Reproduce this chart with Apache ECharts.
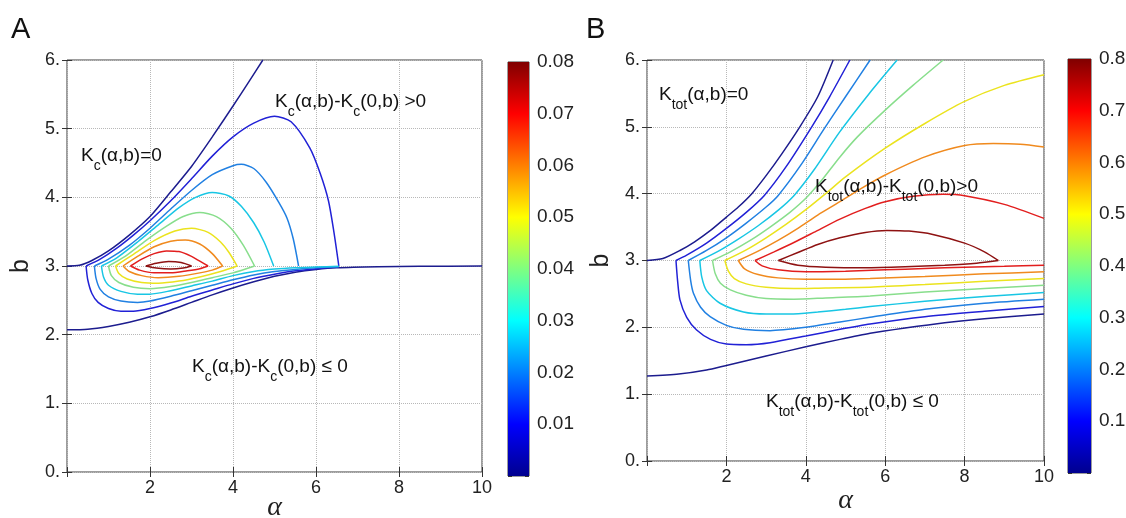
<!DOCTYPE html>
<html><head><meta charset="utf-8">
<script src="https://cdn.jsdelivr.net/npm/echarts@6/dist/echarts.min.js"></script>
<style>html,body{margin:0;padding:0;background:#fff}#c{width:1126px;height:518px}</style>
</head><body><div id="c"></div>
<script>
// ---------- tick labels ----------
const xTicks = [0, 2, 4, 6, 8, 10];
const yTicks = [0, 1, 2, 3, 4, 5, 6];
const cbTicksA = [0.01, 0.02, 0.03, 0.04, 0.05, 0.06, 0.07, 0.08];
const cbTicksB = [0.1, 0.2, 0.3, 0.4, 0.5, 0.6, 0.7, 0.8];
const levelsA = [0, 0.01, 0.02, 0.03, 0.04, 0.05, 0.06, 0.07, 0.08];
const levelsB = [0, 0.1, 0.2, 0.3, 0.4, 0.5, 0.6, 0.7, 0.8];

// ---------- Panel A contours [alpha, b] ----------
const A0_up  = [[0,3.0],[0.3,3.01],[0.6,3.08],[1.0,3.22],[1.5,3.45],[2.0,3.72],[2.5,4.08],[3.0,4.45],[3.5,4.88],[4.0,5.33],[4.4,5.7],[4.72,6.0]];
const A0_low = [[0,2.07],[0.5,2.08],[1.0,2.12],[1.5,2.18],[2.0,2.26],[2.5,2.36],[3.0,2.47],[3.5,2.58],[4.0,2.68],[4.5,2.77],[5.0,2.85],[5.5,2.91],[6.0,2.95],[6.5,2.975],[7.5,2.99],[8.5,2.995],[10,3.0]];
const A1_up  = [[0.46,3.0],[0.8,3.1],[1.2,3.26],[1.6,3.45],[2.0,3.66],[2.5,3.95],[3.0,4.27],[3.5,4.6],[4.0,4.88],[4.5,5.08],[5.0,5.18],[5.4,5.1],[5.85,4.72],[6.1,4.35],[6.3,3.95],[6.43,3.5],[6.55,3.0]];
const A1_low = [[0.46,3.0],[0.5,2.8],[0.6,2.6],[0.75,2.47],[1.0,2.38],[1.3,2.34],[1.6,2.34],[2.0,2.38],[2.5,2.46],[3.0,2.56],[3.5,2.65],[4.0,2.74],[4.5,2.82],[5.0,2.88],[5.5,2.93],[6.0,2.96],[6.55,2.99]];
const A2_up  = [[0.66,3.0],[1.0,3.1],[1.5,3.3],[2.0,3.55],[2.5,3.83],[3.0,4.1],[3.5,4.33],[4.0,4.46],[4.2,4.48],[4.5,4.42],[4.8,4.22],[5.1,3.93],[5.3,3.7],[5.45,3.4],[5.58,3.0]];
const A2_low = [[0.66,3.0],[0.7,2.82],[0.8,2.66],[1.0,2.55],[1.3,2.49],[1.7,2.47],[2.0,2.49],[2.5,2.56],[3.0,2.64],[3.5,2.72],[4.0,2.8],[4.5,2.87],[5.0,2.92],[5.5,2.95],[6.0,2.975],[6.55,2.99]];
const A3_up  = [[0.83,3.0],[1.2,3.12],[1.7,3.35],[2.2,3.6],[2.7,3.85],[3.1,4.0],[3.5,4.07],[3.9,4.02],[4.2,3.87],[4.5,3.63],[4.75,3.35],[4.98,3.0]];
const A3_low = [[0.83,3.0],[0.88,2.84],[1.0,2.72],[1.3,2.63],[1.7,2.59],[2.0,2.59],[2.5,2.64],[3.0,2.71],[3.5,2.78],[4.0,2.86],[4.5,2.92],[5.0,2.955],[5.5,2.975],[6.0,2.985],[6.55,2.995]];
const A4_up  = [[1.0,3.0],[1.4,3.14],[1.9,3.37],[2.4,3.58],[2.8,3.72],[3.2,3.78],[3.6,3.72],[3.95,3.55],[4.25,3.3],[4.52,3.0]];
const A4_low = [[1.0,3.0],[1.07,2.86],[1.25,2.76],[1.6,2.69],[2.0,2.67],[2.5,2.7],[3.0,2.76],[3.5,2.83],[4.0,2.9],[4.52,3.0]];
const A5_up  = [[1.17,3.0],[1.6,3.17],[2.1,3.37],[2.6,3.51],[3.0,3.55],[3.4,3.49],[3.7,3.35],[3.9,3.2],[4.1,3.0]];
const A5_low = [[1.17,3.0],[1.25,2.89],[1.45,2.81],[1.8,2.76],[2.2,2.75],[2.7,2.78],[3.2,2.84],[3.7,2.92],[4.1,3.0]];
const A6_up  = [[1.35,3.0],[1.7,3.14],[2.1,3.28],[2.5,3.36],[2.85,3.38],[3.2,3.32],[3.5,3.18],[3.75,3.0]];
const A6_low = [[1.35,3.0],[1.5,2.92],[1.8,2.86],[2.2,2.83],[2.7,2.85],[3.2,2.9],[3.5,2.94],[3.75,3.0]];
const A7_up  = [[1.53,3.0],[1.8,3.1],[2.1,3.18],[2.4,3.22],[2.7,3.21],[3.0,3.14],[3.2,3.07],[3.4,3.0]];
const A7_low = [[1.53,3.0],[1.75,2.94],[2.1,2.9],[2.5,2.9],[2.9,2.93],[3.2,2.96],[3.4,3.0]];
const A8_up  = [[1.9,3.0],[2.15,3.04],[2.45,3.065],[2.75,3.05],[3.0,3.0]];
const A8_low = [[1.9,3.0],[2.15,2.97],[2.5,2.955],[2.8,2.97],[3.0,3.0]];

// ---------- Panel B contours [alpha, b] ----------
const B0_up  = [[0,3.0],[0.4,3.03],[0.83,3.15],[1.2,3.28],[1.6,3.45],[2.0,3.65],[2.3,3.8],[2.64,4.0],[3.0,4.27],[3.4,4.6],[3.85,5.0],[4.3,5.45],[4.69,6.0]];
const B0_low = [[0,1.27],[0.8,1.3],[1.5,1.36],[2.0,1.43],[3.0,1.57],[4.0,1.71],[4.86,1.82],[5.62,1.91],[6.5,1.99],[7.5,2.07],[8.5,2.13],[10,2.2]];
const B1_up  = [[0.73,3.0],[1.0,3.08],[1.5,3.26],[2.0,3.48],[2.5,3.72],[2.95,3.97],[3.5,4.4],[4.15,5.0],[4.6,5.45],[5.11,6.0]];
const B1_low = [[0.73,3.0],[0.77,2.7],[0.83,2.41],[1.0,2.15],[1.25,1.96],[1.6,1.82],[2.0,1.75],[2.5,1.74],[3.1,1.77],[4.0,1.87],[4.86,1.97],[5.62,2.05],[7,2.16],[8.5,2.24],[10,2.31]];
const B2_up  = [[1.04,3.0],[1.5,3.15],[2.0,3.34],[2.5,3.56],[3.0,3.8],[3.3,3.97],[3.9,4.45],[4.44,4.95],[5.0,5.45],[5.62,6.0]];
const B2_low = [[1.04,3.0],[1.1,2.7],[1.17,2.51],[1.35,2.3],[1.59,2.16],[2.0,2.03],[2.43,1.97],[3.1,1.95],[4.0,2.0],[4.86,2.08],[5.62,2.15],[7,2.27],[8.5,2.36],[10,2.42]];
const B3_up  = [[1.33,3.0],[1.8,3.14],[2.3,3.32],[2.8,3.52],[3.3,3.75],[3.7,3.97],[4.2,4.35],[4.85,4.92],[5.6,5.5],[6.3,6.0]];
const B3_low = [[1.33,3.0],[1.38,2.75],[1.5,2.55],[1.84,2.36],[2.43,2.23],[3.0,2.2],[3.6,2.2],[4.3,2.23],[5.0,2.27],[5.62,2.31],[7,2.39],[8.5,2.46],[10,2.52]];
const B4_up  = [[1.65,3.0],[2.1,3.13],[2.6,3.3],[3.1,3.5],[3.6,3.72],[4.0,3.93],[4.4,4.2],[4.86,4.55],[5.3,4.85],[6.0,5.25],[6.7,5.62],[7.46,6.0]];
const B4_low = [[1.65,3.0],[1.72,2.8],[1.85,2.66],[2.1,2.56],[2.5,2.48],[3.0,2.43],[3.7,2.42],[4.5,2.44],[5.62,2.47],[7,2.53],[8.5,2.58],[10,2.63]];
const B5_up  = [[1.96,3.0],[2.5,3.16],[3.0,3.34],[3.5,3.54],[4.0,3.76],[4.5,4.0],[5.0,4.25],[6.0,4.68],[7.0,5.05],[8.0,5.38],[9.0,5.62],[10,5.78]];
const B5_low = [[1.96,3.0],[2.05,2.84],[2.2,2.73],[2.5,2.65],[3.0,2.6],[3.7,2.58],[4.5,2.59],[5.62,2.6],[7,2.64],[8.5,2.69],[10,2.73]];
const B6_up  = [[2.3,3.0],[2.8,3.14],[3.3,3.3],[3.8,3.48],[4.3,3.68],[4.86,3.88],[5.4,4.08],[6.0,4.28],[7.0,4.55],[8.0,4.72],[8.72,4.75],[9.4,4.74],[10,4.7]];
const B6_low = [[2.3,3.0],[2.45,2.88],[2.8,2.79],[3.3,2.74],[4.0,2.72],[4.86,2.72],[5.62,2.73],[7,2.76],[8.5,2.8],[10,2.83]];
const B7_up  = [[2.72,3.0],[3.2,3.13],[3.7,3.27],[4.2,3.42],[4.86,3.62],[5.5,3.78],[6.0,3.88],[6.7,3.96],[7.46,3.99],[8.0,3.97],[9.0,3.84],[10,3.63]];
const B7_low = [[2.72,3.0],[2.9,2.92],[3.3,2.86],[4.0,2.83],[5.0,2.84],[6.0,2.86],[7,2.88],[8,2.9],[9,2.915],[10,2.93]];
const B8_up  = [[3.31,3.0],[3.8,3.12],[4.3,3.24],[4.86,3.34],[5.5,3.42],[6.04,3.45],[6.6,3.44],[7.2,3.39],[8.0,3.26],[8.5,3.13],[8.85,3.0]];
const B8_low = [[3.31,3.0],[3.8,2.93],[4.5,2.9],[5.5,2.89],[6.5,2.905],[7.5,2.93],[8.3,2.96],[8.85,3.0]];

const contoursA = [[0,A0_up],[0,A0_low],[1,A1_up],[1,A1_low],[2,A2_up],[2,A2_low],[3,A3_up],[3,A3_low],[4,A4_up],[4,A4_low],[5,A5_up],[5,A5_low],[6,A6_up],[6,A6_low],[7,A7_up],[7,A7_low],[8,A8_up],[8,A8_low]];
const contoursB = [[0,B0_up],[0,B0_low],[1,B1_up],[1,B1_low],[2,B2_up],[2,B2_low],[3,B3_up],[3,B3_low],[4,B4_up],[4,B4_low],[5,B5_up],[5,B5_low],[6,B6_up],[6,B6_low],[7,B7_up],[7,B7_low],[8,B8_up],[8,B8_low]];

// ---------- styles ----------
const lineColors = ['#1c1c8e','#2121d6','#2180e2','#18c6e4','#88de8c','#ebe31e','#f08a1e','#e21e1e','#8e1212'];
const jetStops = [[0,'#00008f'],[0.125,'#0000ff'],[0.375,'#00ffff'],[0.625,'#ffff00'],[0.875,'#ff0000'],[1,'#800000']];
const FONT = 'Liberation Sans, Arial, sans-serif';
const AX = '#333';

const chart = echarts.init(document.getElementById('c'), null, {renderer:'canvas'});

function contourSeries(list, idx) {
  return list.map(([lv, d]) => ({
    type:'line', xAxisIndex:idx, yAxisIndex:idx, data:d, showSymbol:false, symbol:'none',
    smooth:0.25, silent:true, z:3, lineStyle:{color:lineColors[lv], width:1.5}
  }));
}
function plotX(grid, show) {
  return {
    gridIndex:grid, type:'value', min:xTicks[0], max:xTicks[xTicks.length-1], interval:2,
    position: show ? 'bottom' : 'top',
    name: show ? 'α' : '', nameLocation:'middle', nameGap: grid === 0 ? 22 : 26, nameMoveOverlap:false,
    nameTextStyle:{fontFamily:'Liberation Serif, serif', fontStyle:'italic', fontSize:28, color:'#222'},
    axisLine:{show:false}, axisTick:{show:true, inside:true, length:5, lineStyle:{color:AX}},
    axisLabel:{show:show, fontSize:18, fontFamily:FONT, color:'#222', margin:7,
      formatter: v => (v === 0 || xTicks.indexOf(v) < 0) ? '' : String(v)},
    splitLine:{show:show, lineStyle:{color:'#b8b8b8', type:'dotted', width:1}}
  };
}
function plotY(grid, show) {
  return {
    gridIndex:grid, type:'value', min:yTicks[0], max:yTicks[yTicks.length-1], interval:1,
    position: show ? 'left' : 'right',
    name: show ? 'b' : '', nameLocation:'middle', nameRotate:90, nameGap:33, nameMoveOverlap:false,
    nameTextStyle:{fontFamily:FONT, fontSize:25, color:'#222'},
    axisLine:{show:false}, axisTick:{show:true, inside:true, length:5, lineStyle:{color:AX}},
    axisLabel:{show:show, fontSize:18, fontFamily:FONT, color:'#222', margin:7,
      formatter: v => yTicks.indexOf(v) < 0 ? '' : v + '.'},
    splitLine:{show:show, lineStyle:{color:'#b8b8b8', type:'dotted', width:1}}
  };
}
function cbY(grid, max, ticks, dec, show) {
  return {
    gridIndex:grid, type:'value', min:0, max:max, interval:max/8, position: show ? 'right' : 'left',
    axisLine:{show:false}, axisTick:{show:true, inside:true, length:4, lineStyle:{color:AX}},
    axisLabel:{show:show, inside:false, fontSize:19, fontFamily:FONT, color:'#222', margin:8,
      formatter: v => { const s = v.toFixed(dec); return ticks.map(t => t.toFixed(dec)).indexOf(s) < 0 ? '' : s; }},
    splitLine:{show:false}
  };
}
function cbX(grid) {
  return {gridIndex:grid, type:'category', data:['c'], show:false, boundaryGap:true};
}
function rich(main, sub) {
  return {
    m:{fontSize:main, fontWeight:'normal', fontFamily:FONT, color:'#111', verticalAlign:'top', lineHeight:main+3},
    s:{fontSize:sub, fontWeight:'normal', fontFamily:FONT, color:'#111', verticalAlign:'top', padding:[13,0,0,0]}
  };
}
function note(text, left, top) {
  return {text:text, left:left, top:top, padding:0, textStyle:{fontWeight:'normal', rich:rich(19,14)}};
}
const gridBox = {show:true, borderColor:'#3a3a3a', borderWidth:1, backgroundColor:'rgba(0,0,0,0)',
                 containLabel:false, outerBoundsMode:'none'};

const option = {
  animation:false,
  backgroundColor:'#fff',
  title:[
    {text:'A', left:11, top:15, padding:0, textStyle:{fontSize:29, fontWeight:'normal', fontFamily:FONT, color:'#111'}},
    {text:'B', left:586, top:15, padding:0, textStyle:{fontSize:29, fontWeight:'normal', fontFamily:FONT, color:'#111'}},
    note('{m|K}{s|c}{m|(α,b)=0}', 81, 146),
    note('{m|K}{s|c}{m|(α,b)-K}{s|c}{m|(0,b) >0}', 275, 92),
    note('{m|K}{s|c}{m|(α,b)-K}{s|c}{m|(0,b) ≤ 0}', 192, 357),
    note('{m|K}{s|tot}{m|(α,b)=0}', 659, 85),
    note('{m|K}{s|tot}{m|(α,b)-K}{s|tot}{m|(0,b)>0}', 815, 177),
    note('{m|K}{s|tot}{m|(α,b)-K}{s|tot}{m|(0,b) ≤ 0}', 766, 392)
  ],
  grid:[
    Object.assign({left:67, top:60, width:415, height:412}, gridBox),
    Object.assign({left:647, top:60, width:397, height:401}, gridBox),
    Object.assign({left:508, top:62, width:21, height:414}, gridBox),
    Object.assign({left:1068, top:59, width:23, height:414}, gridBox)
  ],
  xAxis:[ plotX(0,true), plotX(1,true), cbX(2), cbX(3), plotX(0,false), plotX(1,false) ],
  yAxis:[ plotY(0,true), plotY(1,true), cbY(2,0.08,cbTicksA,2,true), cbY(3,0.8,cbTicksB,1,true),
          plotY(0,false), plotY(1,false), cbY(2,0.08,cbTicksA,2,false), cbY(3,0.8,cbTicksB,1,false) ],
  series: [].concat(
    contourSeries(contoursA, 0),
    contourSeries(contoursB, 1),
    [
      {type:'bar', xAxisIndex:2, yAxisIndex:2, data:[levelsA[levelsA.length-1]], barWidth:'100%', silent:true,
       itemStyle:{color:{type:'linear', x:0, y:1, x2:0, y2:0, colorStops:jetStops.map(s=>({offset:s[0], color:s[1]}))}}},
      {type:'bar', xAxisIndex:3, yAxisIndex:3, data:[levelsB[levelsB.length-1]], barWidth:'100%', silent:true,
       itemStyle:{color:{type:'linear', x:0, y:1, x2:0, y2:0, colorStops:jetStops.map(s=>({offset:s[0], color:s[1]}))}}}
    ]
  )
};
chart.setOption(option);
</script>
</body></html>
